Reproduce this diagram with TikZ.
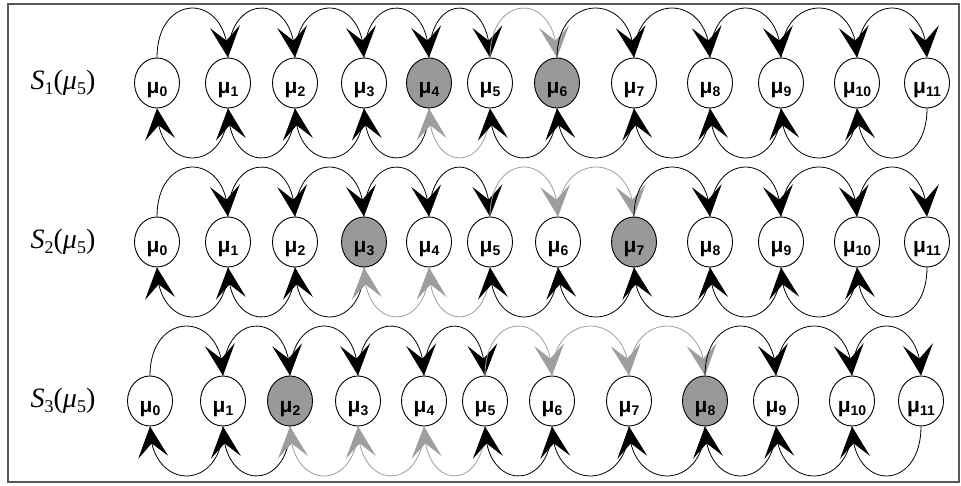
\documentclass[tikz,border=0pt]{standalone}
\usepackage{fontspec}
\setmainfont{Liberation Serif}
\newfontfamily\sansb{Liberation Sans}
\usetikzlibrary{shapes.geometric,arrows.meta,bending}
\definecolor{nodegray}{gray}{0.6}
\definecolor{arcgray}{gray}{0.62}
\definecolor{framegray}{gray}{0.35}
\newcommand\mulab[1]{μ\raisebox{-3pt}{\fontsize{14}{14}\selectfont#1}}
\newcommand\slab[1]{\textit{S}\raisebox{-5pt}{\fontsize{18}{18}\selectfont#1}(\textit{μ}\raisebox{-5pt}{\fontsize{18}{18}\selectfont 5})}
\tikzset{
  munode/.style={ellipse, draw, line width=0.9pt, minimum width=45pt, minimum height=50pt,
    inner sep=0pt, fill=white, text height=22pt, text depth=0pt,
    font=\sansb\bfseries\fontsize{21}{21}\selectfont},
  hlnode/.style={munode, fill=nodegray},
  arcb/.style={line width=0.8pt, -{Stealth[length=31pt,width=30pt,inset=14pt,flex]}},
  arcg/.style={arcb, color=arcgray},
  rowlab/.style={font=\fontsize{28}{28}\selectfont, inner sep=0pt},
  frame/.style={draw=framegray, line width=1.5pt}
}
\begin{document}
\begin{tikzpicture}[x=1pt,y=1pt]
\useasboundingbox (0,0) rectangle (961,485);
\draw[frame] (8,3) rectangle (959,481);
% row labels
\node[rowlab] (l1) at (63,402) {\slab{1}};
\node[rowlab] (l2) at (63,243) {\slab{2}};
\node[rowlab] (l3) at (63,84) {\slab{3}};
% row 1
\foreach \x [count=\i from 0] in {157,228,295,364,429,490,557,634,710,781,857,927}{
  \ifnum\i=4 \def\st{hlnode}\else\ifnum\i=6 \def\st{hlnode}\else\def\st{munode}\fi\fi
  \node[\st] (a\i) at (\x,402) {\mulab{\i}};
}
% row 2
\foreach \x [count=\i from 0] in {157,228,295,364,429,490,558,634,710,781,857,927}{
  \ifnum\i=3 \def\st{hlnode}\else\ifnum\i=7 \def\st{hlnode}\else\def\st{munode}\fi\fi
  \node[\st] (b\i) at (\x,243) {\mulab{\i}};
}
% row 3
\foreach \x [count=\i from 0] in {150,223,290,358,424,485,552,629,705,776,852,921}{
  \ifnum\i=2 \def\st{hlnode}\else\ifnum\i=8 \def\st{hlnode}\else\def\st{munode}\fi\fi
  \node[\st] (c\i) at (\x,84) {\mulab{\i}};
}
% arcs
\foreach \r/\glo/\ghi in {a/4/6,b/3/7,c/2/8}{
  \foreach \i [evaluate=\i as \j using int(\i+1)] in {0,...,10}{
    % top arc i -> i+1
    \ifnum\i<5 \def\ts{arcb}\else\ifnum\j>\ghi \def\ts{arcb}\else\def\ts{arcg}\fi\fi
    \draw[\ts] (\r\i.north) to[out=90,in=90,distance=66pt] (\r\j.north);
  }
  \foreach \i [evaluate=\i as \j using int(\i+1)] in {0,...,10}{
    % bottom arc i+1 -> i
    \ifnum\j>5 \def\bs{arcb}\else\ifnum\i<\glo \def\bs{arcb}\else\def\bs{arcg}\fi\fi
    \draw[\bs] (\r\j.south) to[out=-90,in=-90,distance=66pt] (\r\i.south);
  }
}
\end{tikzpicture}
\end{document}
